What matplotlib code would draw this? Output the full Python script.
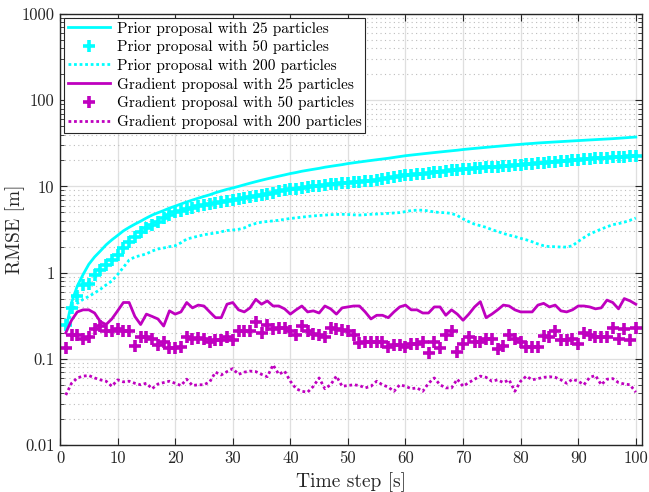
import matplotlib
matplotlib.use("Agg")
import matplotlib.pyplot as plt
from matplotlib.ticker import FixedLocator, FixedFormatter, LogLocator, NullFormatter
import numpy as np

plt.rcParams['font.family'] = ['cmr10']
plt.rcParams['mathtext.fontset'] = 'cm'
plt.rcParams['axes.formatter.use_mathtext'] = True

time_steps = list(range(1, 101))

prior_25 = [0.22, 0.45, 0.70, 0.95, 1.25, 1.52, 1.78, 2.1, 2.4, 2.7,
            3.05, 3.35, 3.65, 3.95, 4.3, 4.65, 4.95, 5.25, 5.6, 5.9,
            6.25, 6.6, 6.95, 7.3, 7.65, 8.0, 8.45, 8.85, 9.25, 9.6,
            10.0, 10.45, 10.9, 11.35, 11.8, 12.25, 12.7, 13.15, 13.6, 14.1,
            14.5, 15.0, 15.4, 15.8, 16.2, 16.7, 17.1, 17.5, 17.9, 18.4,
            18.8, 19.2, 19.6, 20.0, 20.4, 20.8, 21.2, 21.7, 22.2, 22.7,
            23.1, 23.5, 23.9, 24.3, 24.7, 25.1, 25.5, 25.9, 26.3, 26.8,
            27.2, 27.6, 28.0, 28.4, 28.8, 29.2, 29.6, 30.0, 30.4, 30.8,
            31.2, 31.5, 31.9, 32.2, 32.5, 32.8, 33.1, 33.4, 33.7, 34.0,
            34.3, 34.6, 34.9, 35.2, 35.5, 35.8, 36.2, 36.6, 37.0, 37.4]

prior_50 = [0.25, 0.39, 0.53, 0.72, 0.74, 0.94, 1.07, 1.22, 1.40, 1.6,
            1.95, 2.25, 2.6, 2.95, 3.3, 3.6, 3.9, 4.3, 4.7, 5.0,
            5.2, 5.4, 5.65, 5.9, 6.1, 6.3, 6.5, 6.65, 6.85, 7.0,
            7.15, 7.4, 7.6, 7.8, 7.95, 8.25, 8.5, 8.75, 9.05, 9.3,
            9.45, 9.65, 9.85, 10.05, 10.2, 10.4, 10.55, 10.7, 10.85, 11.0,
            11.15, 11.3, 11.5, 11.7, 11.95, 12.2, 12.5, 12.8, 13.1, 13.4,
            13.65, 13.9, 14.1, 14.35, 14.6, 14.85, 15.1, 15.4, 15.65, 15.9,
            16.1, 16.3, 16.45, 16.6, 16.8, 16.95, 17.1, 17.35, 17.6, 17.85,
            18.1, 18.35, 18.6, 18.85, 19.1, 19.35, 19.6, 19.85, 20.1, 20.35,
            20.6, 20.85, 21.1, 21.35, 21.6, 21.8, 22.0, 22.2, 22.35, 22.5]

prior_200 = [0.22, 0.35, 0.44, 0.49, 0.53, 0.58, 0.64, 0.72, 0.8, 0.95,
             1.15, 1.4, 1.52, 1.58, 1.65, 1.78, 1.88, 1.93, 2.0, 2.05,
             2.22, 2.45, 2.55, 2.65, 2.75, 2.82, 2.88, 2.98, 3.08, 3.12,
             3.18, 3.3, 3.55, 3.72, 3.85, 3.92, 3.98, 4.05, 4.15, 4.25,
             4.32, 4.4, 4.48, 4.55, 4.6, 4.65, 4.7, 4.73, 4.75, 4.72,
             4.68, 4.65, 4.7, 4.75, 4.78, 4.82, 4.87, 4.92, 4.97, 5.1,
             5.25, 5.3, 5.3, 5.2, 5.05, 4.98, 4.95, 4.85, 4.6, 4.2,
             3.9, 3.65, 3.5, 3.35, 3.15, 3.0, 2.85, 2.72, 2.62, 2.5,
             2.4, 2.28, 2.15, 2.05, 2.0, 2.0, 1.98, 1.98, 2.05, 2.3,
             2.55, 2.8, 3.0, 3.2, 3.4, 3.6, 3.7, 3.85, 4.05, 4.3]

grad_25 = [0.20, 0.28, 0.35, 0.37, 0.37, 0.34, 0.27, 0.25, 0.29, 0.36,
           0.45, 0.45, 0.31, 0.25, 0.33, 0.31, 0.29, 0.24, 0.36, 0.33,
           0.35, 0.45, 0.39, 0.42, 0.41, 0.35, 0.30, 0.30, 0.43, 0.45,
           0.37, 0.35, 0.39, 0.49, 0.43, 0.47, 0.41, 0.41, 0.38, 0.33,
           0.37, 0.41, 0.35, 0.36, 0.34, 0.41, 0.38, 0.33, 0.39, 0.40,
           0.41, 0.41, 0.35, 0.29, 0.32, 0.32, 0.30, 0.35, 0.40, 0.42,
           0.37, 0.37, 0.34, 0.34, 0.40, 0.40, 0.32, 0.37, 0.33, 0.28,
           0.33, 0.40, 0.46, 0.30, 0.33, 0.37, 0.42, 0.41, 0.37, 0.35,
           0.35, 0.35, 0.42, 0.44, 0.40, 0.42, 0.36, 0.35, 0.37, 0.41,
           0.41, 0.40, 0.38, 0.39, 0.48, 0.45, 0.38, 0.50, 0.47, 0.43]

grad_50 = [0.132, 0.19, 0.19, 0.17, 0.18, 0.22, 0.24, 0.21, 0.21, 0.22,
           0.21, 0.21, 0.14, 0.18, 0.18, 0.17, 0.145, 0.155, 0.135, 0.135,
           0.138, 0.18, 0.17, 0.175, 0.17, 0.155, 0.165, 0.165, 0.18, 0.165,
           0.21, 0.21, 0.21, 0.27, 0.20, 0.25, 0.22, 0.23, 0.23, 0.21,
           0.19, 0.24, 0.21, 0.195, 0.19, 0.18, 0.23, 0.22, 0.215, 0.21,
           0.19, 0.151, 0.157, 0.157, 0.157, 0.155, 0.138, 0.145, 0.145, 0.138,
           0.147, 0.15, 0.157, 0.116, 0.155, 0.135, 0.19, 0.21, 0.12, 0.15,
           0.18, 0.157, 0.157, 0.17, 0.17, 0.13, 0.142, 0.19, 0.17, 0.157,
           0.138, 0.138, 0.138, 0.185, 0.18, 0.21, 0.165, 0.165, 0.17, 0.15,
           0.20, 0.19, 0.18, 0.18, 0.18, 0.23, 0.17, 0.22, 0.165, 0.23]

grad_200 = [0.038, 0.052, 0.060, 0.063, 0.064, 0.060, 0.057, 0.055, 0.048, 0.057,
            0.054, 0.055, 0.052, 0.050, 0.052, 0.045, 0.051, 0.053, 0.055, 0.052,
            0.049, 0.058, 0.049, 0.050, 0.050, 0.054, 0.070, 0.065, 0.071, 0.077,
            0.066, 0.070, 0.072, 0.071, 0.066, 0.062, 0.085, 0.066, 0.072, 0.055,
            0.045, 0.042, 0.041, 0.048, 0.060, 0.045, 0.050, 0.063, 0.048, 0.049,
            0.050, 0.049, 0.046, 0.048, 0.055, 0.050, 0.047, 0.042, 0.050, 0.048,
            0.045, 0.046, 0.042, 0.052, 0.060, 0.050, 0.046, 0.046, 0.058, 0.048,
            0.053, 0.058, 0.063, 0.061, 0.055, 0.057, 0.053, 0.057, 0.042, 0.055,
            0.063, 0.057, 0.059, 0.061, 0.062, 0.061, 0.057, 0.052, 0.058, 0.055,
            0.050, 0.061, 0.064, 0.050, 0.058, 0.059, 0.053, 0.051, 0.050, 0.041]

labels = ["Prior proposal with 25 particles",
          "Prior proposal with 50 particles",
          "Prior proposal with 200 particles",
          "Gradient proposal with 25 particles",
          "Gradient proposal with 50 particles",
          "Gradient proposal with 200 particles"]

y_ticks = [0.01, 0.1, 1, 10, 100, 1000]
y_tick_labels = ["0.01", "0.1", "1", "10", "100", "1000"]
x_ticks = [0, 10, 20, 30, 40, 50, 60, 70, 80, 90, 100]

cyan = "#00FFFF"
mag = "#BF00BF"

fig = plt.figure(figsize=(6.49, 4.92), dpi=100)
ax = fig.add_axes([0.0925, 0.0955, 0.896, 0.876])

lw = 2.0
ax.plot(time_steps, prior_25, color=cyan, lw=lw, ls='-', label=labels[0])
ax.plot(time_steps, prior_50, color=cyan, lw=0, marker='+', ms=9, mew=2.6, label=labels[1])
ax.plot(time_steps, prior_200, color=cyan, lw=lw, ls=(0, (1, 1)), label=labels[2])
ax.plot(time_steps, grad_25, color=mag, lw=lw, ls='-', label=labels[3])
ax.plot(time_steps, grad_50, color=mag, lw=0, marker='+', ms=9, mew=2.6, label=labels[4])
ax.plot(time_steps, grad_200, color=mag, lw=lw, ls=(0, (1, 1)), label=labels[5])

ax.set_yscale('log')
ax.set_ylim(0.01, 1000)
ax.set_xlim(0, 101)
ax.yaxis.set_major_locator(FixedLocator(y_ticks))
ax.yaxis.set_major_formatter(FixedFormatter(y_tick_labels))
ax.yaxis.set_minor_locator(LogLocator(base=10, subs=np.arange(2, 10), numticks=20))
ax.yaxis.set_minor_formatter(NullFormatter())
ax.xaxis.set_major_locator(FixedLocator(x_ticks))
ax.set_xticklabels([str(t) for t in x_ticks])

ax.grid(True, which='major', color='#DFDFDF', lw=0.9, ls='-')
ax.grid(True, which='minor', axis='y', color='#BDBDBD', lw=0.8, ls=(0, (1, 3)))
ax.set_axisbelow(True)

for sp in ax.spines.values():
    sp.set_color('#262626')
    sp.set_linewidth(1.0)
ax.tick_params(which='both', direction='in', top=True, right=True, colors='#262626', labelcolor='#262626')
ax.tick_params(which='major', length=5, width=0.8, labelsize=12, pad=4)
ax.tick_params(which='minor', length=3, width=0.6)

ax.set_xlabel("Time step [s]", fontsize=14, color='#262626')
ax.set_ylabel("RMSE [m]", fontsize=14, color='#262626')
ax.xaxis.set_label_coords(0.5, -0.063)
ax.yaxis.set_label_coords(-0.060, 0.5)

leg = ax.legend(loc='upper left', fontsize=11, frameon=True, fancybox=False,
                framealpha=1, edgecolor='#262626', handlelength=2.8,
                labelspacing=0.3, borderaxespad=0.25, borderpad=0.25,
                handletextpad=0.4)
leg.get_frame().set_linewidth(0.8)

fig.savefig("out.png", dpi=100)
